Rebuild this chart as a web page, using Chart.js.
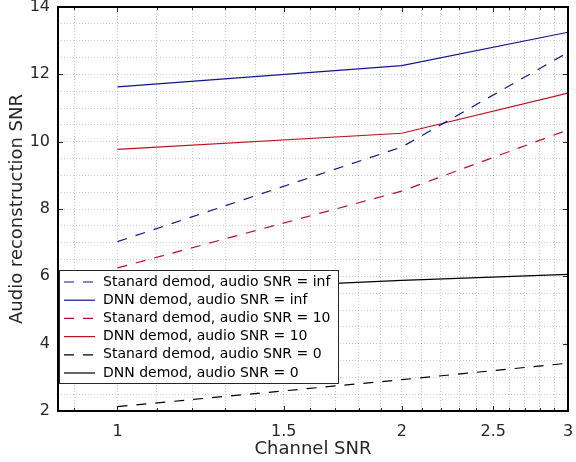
<!DOCTYPE html>
<html>
<head>
<meta charset="utf-8">
<script src="https://cdn.jsdelivr.net/npm/chart.js@4.4.1/dist/chart.umd.min.js"></script>
<style>
  html, body { margin: 0; padding: 0; background: #fff; }
  #wrap { width: 576px; height: 462px; }
</style>
</head>
<body>
<div id="wrap"><canvas id="snrChart" width="576" height="462"></canvas></div>
<script>
// dữ liệu
const channelSnr = [1, 2, 3];
const standardInf = [7.03, 9.84, 12.65];
const dnnInf = [11.63, 12.26, 13.25];
const standard10 = [6.25, 8.53, 10.35];
const dnn10 = [9.77, 10.25, 11.44];
const standard0 = [2.13, 2.93, 3.42];
const dnn0 = [5.5, 5.88, 6.06];

const seriesLabels = [
  "Stanard demod, audio SNR = inf",
  "DNN demod, audio SNR = inf",
  "Stanard demod, audio SNR = 10",
  "DNN demod, audio SNR = 10",
  "Stanard demod, audio SNR = 0",
  "DNN demod, audio SNR = 0"
];

const xMajorTicks = [1, 1.5, 2, 2.5, 3];
const xAllTicks = [0.9, 1, 1.1, 1.2, 1.3, 1.4, 1.5, 1.6, 1.7, 1.8, 1.9, 2, 2.1, 2.2, 2.3, 2.4, 2.5, 2.6, 2.7, 2.8, 2.9, 3];
const yMajorTicks = [2, 4, 6, 8, 10, 12, 14];
const yAllTicks = [2, 2.5, 3, 3.5, 4, 4.5, 5, 5.5, 6, 6.5, 7, 7.5, 8, 8.5, 9, 9.5, 10, 10.5, 11, 11.5, 12, 12.5, 13, 13.5, 14];

const BLUE = "#13138c";
const RED = "#c0101e";
const BLACK = "#000000";
const DASH = [10, 9];
const FONT = "'DejaVu Sans', sans-serif";

function pts(values) {
  return channelSnr.map((x, i) => ({ x: x, y: values[i] }));
}

function makeSet(label, values, color, dashed) {
  return {
    label: label,
    data: pts(values),
    borderColor: color,
    backgroundColor: color,
    borderWidth: 1.2,
    borderDash: dashed ? DASH : [],
    pointRadius: 0,
    tension: 0,
    fill: false
  };
}

// bỏ phần đệm tự động do nhãn trục gây ra
function noPad(scale) {
  scale.paddingTop = 0;
  scale.paddingBottom = 0;
  scale.paddingLeft = 0;
  scale.paddingRight = 0;
}

// ticks nhỏ hướng vào trong + chú thích
const innerTicks = {
  id: "innerTicks",
  afterDatasetsDraw(chart) {
    const ctx = chart.ctx;
    const a = chart.chartArea;
    const xs = chart.scales.x, ys = chart.scales.y;
    ctx.save();
    ctx.strokeStyle = "#262626";
    ctx.lineWidth = 1;
    ctx.beginPath();
    xAllTicks.forEach(v => {
      const px = Math.round(xs.getPixelForValue(v)) + 0.5;
      const len = xMajorTicks.includes(v) ? 5 : 3;
      ctx.moveTo(px, a.bottom); ctx.lineTo(px, a.bottom - len);
      ctx.moveTo(px, a.top); ctx.lineTo(px, a.top + len);
    });
    yMajorTicks.forEach(v => {
      const py = Math.round(ys.getPixelForValue(v)) + 0.5;
      ctx.moveTo(a.left, py); ctx.lineTo(a.left + 5, py);
      ctx.moveTo(a.right, py); ctx.lineTo(a.right - 5, py);
    });
    ctx.stroke();

    const lx = a.left + 1, ly = 270, lw = 279, lh = 113;
    ctx.fillStyle = "#fff";
    ctx.fillRect(lx, ly, lw, lh);
    ctx.strokeStyle = "#262626";
    ctx.lineWidth = 1;
    ctx.strokeRect(lx + 0.5, ly + 0.5, lw, lh);
    ctx.font = "14px " + FONT;
    ctx.textBaseline = "middle";
    chart.data.datasets.forEach((ds, i) => {
      const y = ly + 12 + i * 18.2;
      ctx.strokeStyle = ds.borderColor;
      ctx.lineWidth = 1.2;
      ctx.setLineDash(ds.borderDash);
      ctx.beginPath();
      ctx.moveTo(lx + 5, y);
      ctx.lineTo(lx + 36, y);
      ctx.stroke();
      ctx.setLineDash([]);
      ctx.fillStyle = "#000";
      ctx.fillText(ds.label, lx + 44, y);
    });
    ctx.restore();
  },
  afterDraw(chart) {
    const ctx = chart.ctx;
    const a = chart.chartArea;
    ctx.save();
    ctx.strokeStyle = "#000";
    ctx.lineWidth = 2;
    ctx.strokeRect(a.left, a.top, a.right - a.left, a.bottom - a.top);
    ctx.restore();
  }
};

const ctx = document.getElementById("snrChart").getContext("2d");
new Chart(ctx, {
  type: "line",
  data: {
    datasets: [
      makeSet(seriesLabels[0], standardInf, BLUE, true),
      makeSet(seriesLabels[1], dnnInf, BLUE, false),
      makeSet(seriesLabels[2], standard10, RED, true),
      makeSet(seriesLabels[3], dnn10, RED, false),
      makeSet(seriesLabels[4], standard0, BLACK, true),
      makeSet(seriesLabels[5], dnn0, BLACK, false)
    ]
  },
  options: {
    responsive: false,
    animation: false,
    layout: { padding: { top: 7, right: 8, left: 1, bottom: 0 } },
    plugins: {
      legend: { display: false },
      tooltip: { enabled: false }
    },
    scales: {
      x: {
        type: "logarithmic",
        min: 0.865,
        max: 3,
        afterBuildTicks: (scale) => { scale.ticks = xAllTicks.map(v => ({ value: v })); },
        afterFit: (scale) => { scale.height = 51; noPad(scale); },
        grid: { color: "rgba(0,0,0,0.2)", lineWidth: 1, drawTicks: false },
        border: { display: false, dash: [1, 2] },
        ticks: {
          autoSkip: false,
          maxRotation: 0,
          padding: 11,
          color: "#262626",
          font: { family: FONT, size: 16 },
          callback: (v) => xMajorTicks.includes(v) ? String(v) : ""
        },
        title: {
          display: true,
          text: "Channel SNR",
          color: "#262626",
          font: { family: FONT, size: 18 },
          padding: { top: 0, bottom: 2 }
        }
      },
      y: {
        type: "linear",
        min: 2,
        max: 14,
        afterBuildTicks: (scale) => { scale.ticks = yAllTicks.map(v => ({ value: v })); },
        afterFit: (scale) => { scale.width = 57; noPad(scale); },
        grid: { color: "rgba(0,0,0,0.2)", lineWidth: 1, drawTicks: false },
        border: { display: false, dash: [1, 2] },
        ticks: {
          autoSkip: false,
          padding: 8,
          color: "#262626",
          font: { family: FONT, size: 16 },
          callback: (v) => yMajorTicks.includes(v) ? String(v) : ""
        },
        title: {
          display: true,
          text: "Audio reconstruction SNR",
          color: "#262626",
          font: { family: FONT, size: 18 },
          padding: { top: 6, bottom: 0 }
        }
      }
    }
  },
  plugins: [innerTicks]
});
</script>
</body>
</html>
